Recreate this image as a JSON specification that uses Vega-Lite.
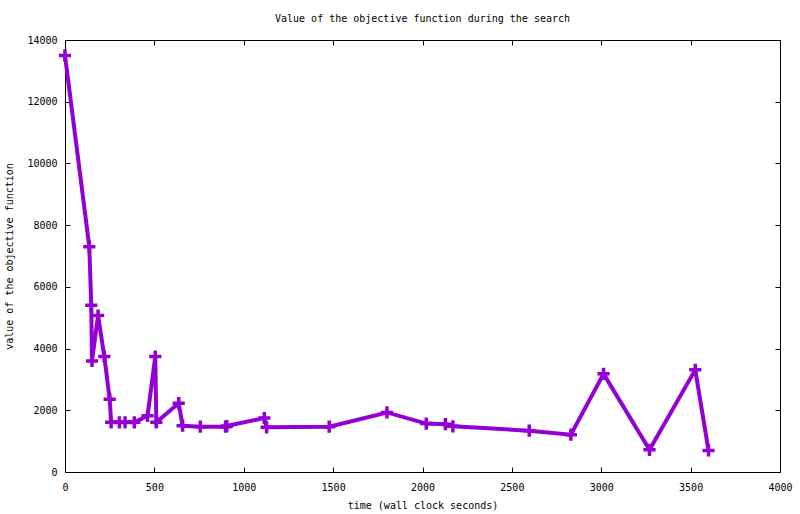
{
  "$schema": "https://vega.github.io/schema/vega-lite/v6.json",
  "width": 715,
  "height": 432,
  "autosize": "none",
  "padding": {"left": 65, "top": 40, "right": 20, "bottom": 42},
  "background": "white",
  "title": {
    "text": "Value of the objective function during the search",
    "font": "DejaVu Sans Mono",
    "fontSize": 10,
    "fontWeight": "normal",
    "color": "black",
    "offset": 11
  },
  "config": {
    "view": {"stroke": "black", "strokeWidth": 1},
    "axis": {
      "grid": false,
      "domainColor": "black",
      "tickColor": "black",
      "tickSize": -5,
      "format": "d",
      "labelFont": "DejaVu Sans Mono",
      "labelFontSize": 10,
      "labelColor": "black",
      "titleFont": "DejaVu Sans Mono",
      "titleFontSize": 10,
      "titleFontWeight": "normal",
      "titleColor": "black"
    }
  },
  "data": {
    "values": [
      {"t": 0, "v": 13500},
      {"t": 136, "v": 7300},
      {"t": 147, "v": 5400},
      {"t": 151, "v": 3600},
      {"t": 185, "v": 5070},
      {"t": 220, "v": 3740},
      {"t": 250, "v": 2360},
      {"t": 258, "v": 1610},
      {"t": 304, "v": 1610},
      {"t": 336, "v": 1610},
      {"t": 388, "v": 1610},
      {"t": 462, "v": 1820},
      {"t": 505, "v": 3740},
      {"t": 511, "v": 1610},
      {"t": 636, "v": 2230},
      {"t": 658, "v": 1500},
      {"t": 757, "v": 1470},
      {"t": 898, "v": 1470},
      {"t": 905, "v": 1490},
      {"t": 1115, "v": 1750},
      {"t": 1128, "v": 1450},
      {"t": 1478, "v": 1470},
      {"t": 1801, "v": 1930},
      {"t": 2021, "v": 1570},
      {"t": 2128, "v": 1550},
      {"t": 2170, "v": 1480},
      {"t": 2597, "v": 1340},
      {"t": 2830, "v": 1210},
      {"t": 3013, "v": 3180},
      {"t": 3270, "v": 720},
      {"t": 3526, "v": 3310},
      {"t": 3600, "v": 700}
    ]
  },
  "layer": [
    {
      "mark": {"type": "line", "color": "#9400D3", "strokeWidth": 4},
      "encoding": {
        "x": {
          "field": "t", "type": "quantitative",
          "scale": {"domain": [0, 4000], "nice": false},
          "axis": {"orient": "bottom", "values": [0, 500, 1000, 1500, 2000, 2500, 3000, 3500, 4000], "labelPadding": 15, "title": "time (wall clock seconds)", "titlePadding": 8, "labelFlush": false}
        },
        "y": {
          "field": "v", "type": "quantitative",
          "scale": {"domain": [0, 14000], "nice": false},
          "axis": {"orient": "left", "values": [0, 2000, 4000, 6000, 8000, 10000, 12000, 14000], "labelPadding": 13, "title": "value of the objective function", "titlePadding": 12}
        }
      }
    },
    {
      "mark": {"type": "point", "opacity": 0},
      "encoding": {
        "x": {
          "field": "t", "type": "quantitative",
          "axis": {"orient": "top", "values": [0, 500, 1000, 1500, 2000, 2500, 3000, 3500, 4000], "labels": false, "title": null}
        },
        "y": {
          "field": "v", "type": "quantitative",
          "axis": {"orient": "right", "values": [0, 2000, 4000, 6000, 8000, 10000, 12000, 14000], "labels": false, "title": null}
        }
      }
    },
    {
      "mark": {"type": "point", "shape": "M-1,0H1M0,-1V1", "filled": false, "stroke": "#9400D3", "strokeWidth": 3.5, "size": 150, "opacity": 1},
      "encoding": {
        "x": {"field": "t", "type": "quantitative", "axis": null},
        "y": {"field": "v", "type": "quantitative", "axis": null}
      }
    }
  ],
  "resolve": {"axis": {"x": "independent", "y": "independent"}}
}
